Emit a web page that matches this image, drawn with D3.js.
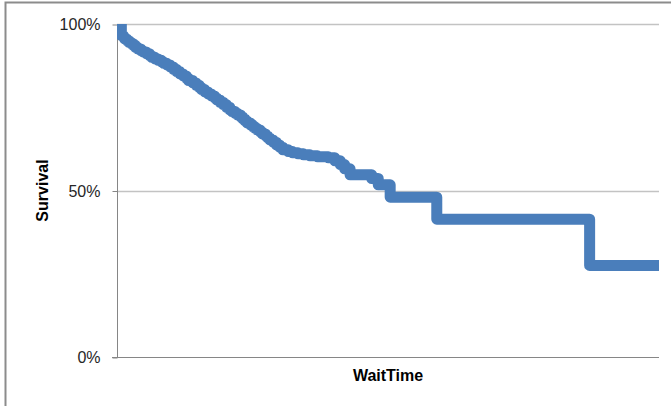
<!DOCTYPE html>
<html>
<head>
<meta charset="utf-8">
<script src="https://cdn.jsdelivr.net/npm/d3@7"></script>
<style>
  html, body { margin: 0; padding: 0; background: #fff; }
  svg { display: block; }
</style>
</head>
<body>
<svg id="chart" width="671" height="406"></svg>
<script>
// Kaplan-Meier style survival estimate against wait time
const waitTimes = [0, 4, 6, 7, 9, 11, 13, 15, 17, 19, 22, 24, 27, 30, 32, 35, 38, 41, 43,
  46, 49, 52, 55, 58, 61, 64, 66, 70, 73, 76, 78, 81, 84, 87, 90, 92, 95, 98, 101, 104,
  106, 109, 111, 114, 116, 118, 120, 123, 125, 127, 129, 132, 134, 137, 139, 141, 144,
  147, 150, 153, 158, 162, 167, 172, 178, 185, 195, 201, 206, 210, 215, 235, 241, 252,
  295, 436];
const survival = [1.000, 0.965, 0.960, 0.955, 0.950, 0.945, 0.941, 0.936, 0.930, 0.925,
  0.920, 0.916, 0.911, 0.905, 0.900, 0.895, 0.891, 0.886, 0.882, 0.877, 0.871, 0.864,
  0.857, 0.850, 0.844, 0.837, 0.830, 0.823, 0.816, 0.809, 0.803, 0.796, 0.790, 0.784,
  0.778, 0.772, 0.765, 0.758, 0.750, 0.742, 0.737, 0.732, 0.727, 0.721, 0.715, 0.709,
  0.703, 0.697, 0.692, 0.687, 0.682, 0.676, 0.670, 0.664, 0.658, 0.652, 0.645, 0.637,
  0.630, 0.622, 0.617, 0.613, 0.610, 0.607, 0.604, 0.601, 0.598, 0.589, 0.578, 0.565,
  0.547, 0.536, 0.517, 0.480, 0.414, 0.275];
const maxWaitTime = 500;
const yTicks = [0, 0.5, 1];
const yTickLabels = ["0%", "50%", "100%"];
const xTitle = "WaitTime";
const yTitle = "Survival";

const svg = d3.select("#chart");
const plot = { left: 117, right: 659, top: 24, bottom: 357 };
const fontFamily = "'Liberation Sans', Arial, sans-serif";

// outer chart frame
svg.append("rect")
  .attr("x", 5.5).attr("y", 2.5)
  .attr("width", 700).attr("height", 450)
  .attr("fill", "none").attr("stroke", "#8c8c8c").attr("stroke-width", 2);

const x = d3.scaleLinear().domain([0, maxWaitTime]).range([plot.left, plot.right]);
const y = d3.scaleLinear().domain([0, 1]).range([plot.bottom, plot.top]);

// horizontal gridlines
svg.append("g")
  .selectAll("line")
  .data(yTicks.filter(d => d > 0))
  .join("line")
  .attr("x1", plot.left).attr("x2", plot.right)
  .attr("y1", d => Math.round(y(d)) + 0.5).attr("y2", d => Math.round(y(d)) + 0.5)
  .attr("stroke", "#c3c3c3").attr("stroke-width", 1.5);

// y axis with tick labels
const yAxis = d3.axisLeft(y)
  .tickValues(yTicks)
  .tickFormat((d, i) => yTickLabels[i])
  .tickSize(5)
  .tickPadding(12);
const gy = svg.append("g")
  .attr("transform", `translate(${plot.left + 0.5},0.5)`)
  .call(yAxis);
gy.select(".domain").attr("d", `M0,${plot.top}V${plot.bottom}`).attr("stroke", "#868686");
gy.selectAll(".tick line").attr("stroke", "#868686");
gy.selectAll(".tick text")
  .attr("fill", "#262626")
  .style("font-family", fontFamily)
  .style("font-size", "16px");

// x axis baseline (no tick labels)
const xAxis = d3.axisBottom(x).tickValues([]).tickSizeOuter(0);
const gx = svg.append("g")
  .attr("transform", `translate(0,${Math.round(y(0)) + 0.5})`)
  .call(xAxis);
gx.select(".domain").attr("d", `M${plot.left - 5},0H${plot.right}`).attr("stroke", "#868686");

// survival curve, clipped to the plot area
svg.append("clipPath").attr("id", "plot-clip")
  .append("rect")
  .attr("x", plot.left).attr("y", plot.top)
  .attr("width", plot.right - plot.left).attr("height", plot.bottom - plot.top);

const points = waitTimes.map((t, i) => [t, survival[i]]);
points.push([maxWaitTime, survival[survival.length - 1]]);

const line = d3.line()
  .x(d => x(d[0]))
  .y(d => y(d[1]))
  .curve(d3.curveStepAfter);

svg.append("path")
  .datum(points)
  .attr("clip-path", "url(#plot-clip)")
  .attr("d", line)
  .attr("fill", "none")
  .attr("stroke", "#4a7ebb")
  .attr("stroke-width", 11)
  .attr("stroke-linejoin", "round")
  .attr("stroke-linecap", "round");

// axis titles
svg.append("text")
  .attr("x", (plot.left + plot.right) / 2)
  .attr("y", 381)
  .attr("text-anchor", "middle")
  .attr("fill", "#000")
  .style("font-family", fontFamily)
  .style("font-weight", "bold")
  .style("font-size", "16px")
  .text(xTitle);

svg.append("text")
  .attr("transform", `translate(48,${(plot.top + plot.bottom) / 2}) rotate(-90)`)
  .attr("text-anchor", "middle")
  .attr("fill", "#000")
  .style("font-family", fontFamily)
  .style("font-weight", "bold")
  .style("font-size", "16px")
  .text(yTitle);
</script>
</body>
</html>
